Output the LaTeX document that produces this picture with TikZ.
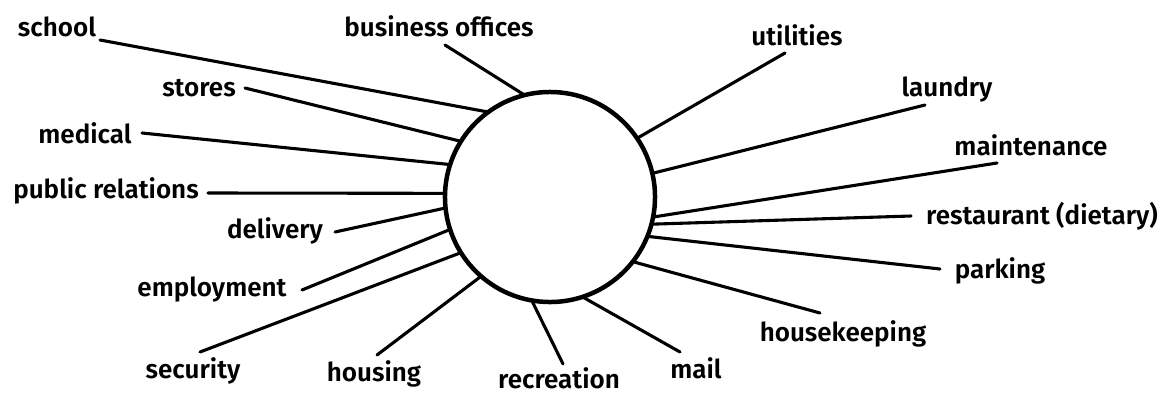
\documentclass[tikz,border=0pt]{standalone}
\usepackage{fontspec}
\setmainfont{Fira Sans}[UprightFont={* SemiBold}]
\begin{document}
\begin{tikzpicture}[x=0.025cm,y=-0.025cm,
  lbl/.style={anchor=mid,inner sep=0pt,font=\fontsize{18.5}{20}\selectfont},
  spoke/.style={line width=2.2pt,line cap=round}]

\useasboundingbox (0,0) rectangle (1169,395);

% the hub
\node[draw,circle,line width=3.2pt,inner sep=0pt,outer sep=0pt,
  minimum size=5.25cm] (hub) at (550,197) {};

% labels, left side
\node[lbl] (school) at (57,33) {school};
\node[lbl] (stores) at (199,93) {stores};
\node[lbl] (medical) at (85,140) {medical};
\node[lbl] (public) at (106,195) {public relations};
\node[lbl] (delivery) at (275,235) {delivery};
\node[lbl] (employment) at (212,293) {employment};
\node[lbl] (security) at (193,375) {security};
\node[lbl] (housing) at (374,378) {housing};

% labels, top and bottom
\node[lbl] (business) at (439,33) {business offices};
\node[lbl] (recreation) at (559,385) {recreation};
\node[lbl] (mail) at (696,375) {mail};

% labels, right side
\node[lbl] (utilities) at (797,42) {utilities};
\node[lbl] (laundry) at (947,93) {laundry};
\node[lbl] (maintenance) at (1031,152) {maintenance};
\node[lbl] (restaurant) at (1042,221) {restaurant (dietary)};
\node[lbl] (parking) at (1000,275) {parking};
\node[lbl] (housekeeping) at (843,338) {housekeeping};

% free ends of the spokes
\coordinate (school-t) at (100,40);
\coordinate (stores-t) at (245,88);
\coordinate (medical-t) at (142,133);
\coordinate (public-t) at (208,193);
\coordinate (delivery-t) at (335,232);
\coordinate (employment-t) at (302,290);
\coordinate (security-t) at (200,352);
\coordinate (housing-t) at (377,355);
\coordinate (business-t) at (445,45);
\coordinate (recreation-t) at (563,364);
\coordinate (mail-t) at (680,352);
\coordinate (utilities-t) at (785,53);
\coordinate (laundry-t) at (925,105);
\coordinate (maintenance-t) at (997,163);
\coordinate (restaurant-t) at (911,216);
\coordinate (parking-t) at (940,269);
\coordinate (housekeeping-t) at (820,313);

% spokes
\draw[spoke] (school-t) -- (hub.126.5);
\draw[spoke] (stores-t) -- (hub.148.6);
\draw[spoke] (medical-t) -- (hub.162.4);
\draw[spoke] (public-t) -- (hub.178.9);
\draw[spoke] (delivery-t) -- (hub.186);
\draw[spoke] (employment-t) -- (hub.198.9);
\draw[spoke] (security-t) -- (hub.212.8);
\draw[spoke] (housing-t) -- (hub.229.9);
\draw[spoke] (business-t) -- (hub.104.8);
\draw[spoke] (recreation-t) -- (hub.260.4);
\draw[spoke] (mail-t) -- (hub.288.8);
\draw[spoke] (utilities-t) -- (hub.34.6);
\draw[spoke] (laundry-t) -- (hub.13.4);
\draw[spoke] (maintenance-t) -- (hub.349);
\draw[spoke] (restaurant-t) -- (hub.345.3);
\draw[spoke] (parking-t) -- (hub.338.6);
\draw[spoke] (housekeeping-t) -- (hub.322);

\end{tikzpicture}
\end{document}
